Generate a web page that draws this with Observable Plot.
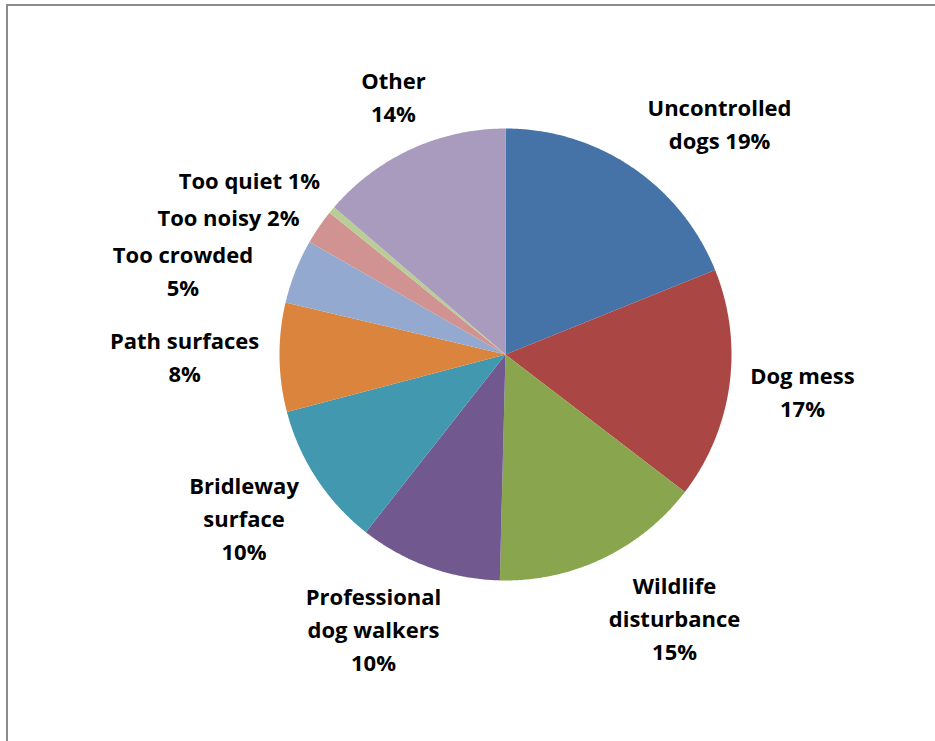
<!DOCTYPE html>
<html><head><meta charset="utf-8">
<script src="https://cdn.jsdelivr.net/npm/d3@7"></script>
<script src="https://cdn.jsdelivr.net/npm/@observablehq/plot@0.6"></script>
<style>
html,body{margin:0;padding:0;background:#fff;overflow:hidden}
#wrap{position:relative;width:935px;height:741px;overflow:hidden}
#border{position:absolute;left:6px;top:4px;width:1000px;height:1000px;border-top:2px solid #8c8c8c;border-left:2px solid #8c8c8c;box-sizing:border-box}
#chart{position:absolute;left:0;top:0}
</style></head><body>
<div id="wrap"><div id="border"></div><div id="chart"></div></div>
<script>
// Data (clockwise from 12 o'clock)
const categories = ["Uncontrolled dogs", "Dog mess", "Wildlife disturbance", "Professional dog walkers", "Bridleway surface", "Path surfaces", "Too crowded", "Too noisy", "Too quiet", "Other"];
const shares = [18.9, 16.5, 15.0, 10.2, 10.3, 7.8, 4.6, 2.5, 0.5, 13.7];
const percentLabels = ["19%", "17%", "15%", "10%", "10%", "8%", "5%", "2%", "1%", "14%"];
const labelLines = ["Uncontrolled\ndogs", "Dog mess\n", "Wildlife\ndisturbance\n", "Professional\ndog walkers\n", "Bridleway\nsurface\n", "Path surfaces\n", "Too crowded\n", "Too noisy", "Too quiet", "Other\n"];
const colors = ["#4572A7", "#AA4643", "#89A54E", "#71588F", "#4198AF", "#DB843D", "#93A9CF", "#D19392", "#B9CD96", "#A99BBD"];

// Label layout (in pie-radius units, y downward)
const labelX = [0.947, 1.314, 0.748, -0.584, -1.157, -1.420, -1.427, -1.226, -1.133, -0.496];
const labelY = [-1.029, 0.157, 1.157, 1.208, 0.717, 0.002, -0.378, -0.615, -0.778, -1.148];

const total = d3.sum(shares);
let cum = 0;
const slices = categories.map((c, i) => {
  const a0 = cum / total * 2 * Math.PI;
  cum += shares[i];
  const a1 = cum / total * 2 * Math.PI;
  const n = Math.max(2, Math.ceil((a1 - a0) / (Math.PI / 360)));
  const ring = [[0, 0]];
  for (let k = 0; k <= n; k++) {
    const a = a0 + (a1 - a0) * k / n;
    ring.push([Math.sin(a), -Math.cos(a)]);
  }
  ring.push([0, 0]);
  return {type: "Feature", properties: {category: c}, geometry: {type: "Polygon", coordinates: [ring]}};
});

const labels = categories.map((c, i) => ({
  x: labelX[i], y: labelY[i],
  text: labelLines[i].endsWith("\n") ? labelLines[i] + percentLabels[i] : labelLines[i] + " " + percentLabels[i]
}));

const domain = {type: "Polygon", coordinates: [[[-1, -1], [1, -1], [1, 1], [-1, 1], [-1, -1]]]};

const chart = Plot.plot({
  width: 935,
  height: 741,
  marginLeft: 279, marginTop: 128, marginRight: 204, marginBottom: 161,
  projection: {type: "identity", domain, clip: false},
  color: {type: "ordinal", domain: categories, range: colors},
  style: {fontFamily: "'Open Sans', sans-serif", background: "transparent", overflow: "visible"},
  marks: [
    Plot.geo(slices, {fill: d => d.properties.category}),
    Plot.text(labels, {x: "x", y: "y", text: "text", fontSize: 22, fontWeight: "bold", fill: "#000",
      textAnchor: "middle", lineAnchor: "middle", lineHeight: 33 / 22})
  ]
});
document.getElementById("chart").appendChild(chart);
</script>
</body></html>
